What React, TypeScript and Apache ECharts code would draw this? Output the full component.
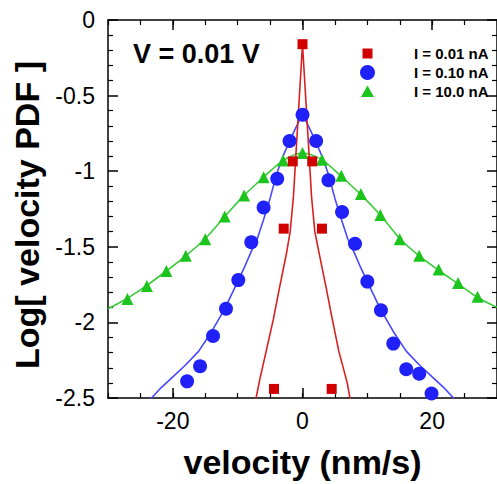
import React, { useEffect, useRef } from "react";
import * as echarts from "echarts";

// Measured markers
const redPtsV = [-4.4, -2.9, -1.5, 0, 1.5, 3.0, 4.5];
const redPtsLog = [-2.44, -1.38, -0.935, -0.16, -0.935, -1.38, -2.44];

const bluePtsV = [-17.8, -15.8, -13.8, -11.8, -9.9, -7.9, -6.0, -3.9, -2.0, 0, 2.1, 4.0, 6.1, 8.1, 10.0, 12.1, 14.0, 16.0, 18.0, 19.9];
const bluePtsLog = [-2.39, -2.29, -2.09, -1.91, -1.72, -1.47, -1.24, -1.05, -0.8, -0.627, -0.8, -1.06, -1.27, -1.48, -1.73, -1.92, -2.14, -2.31, -2.34, -2.47];

const greenPtsV = [-27, -24, -21, -18, -15, -12, -9, -6, -3, 0, 3, 6, 9, 12, 15, 18, 21, 24, 27];
const greenPtsLog = [-1.845, -1.76, -1.66, -1.56, -1.45, -1.3, -1.16, -1.04, -0.93, -0.88, -0.925, -1.03, -1.15, -1.29, -1.45, -1.56, -1.65, -1.74, -1.83];

// Fitted curves
const redFitV = [-7.3, -6.6, -5.6, -4.5, -3.5, -2.5, -1.9, -1.4, -1, -0.5, 0, 0.5, 1, 1.4, 1.9, 2.6, 3.6, 4.6, 5.6, 6.9, 7.4];
const redFitLog = [-2.53, -2.38, -2.19, -1.98, -1.76, -1.55, -1.4, -1.17, -0.88, -0.52, -0.16, -0.52, -0.88, -1.17, -1.4, -1.55, -1.76, -1.98, -2.19, -2.4, -2.52];

const blueFitV = [-23.5, -22, -20, -18, -16, -14, -12, -10, -9, -8, -7, -6, -5, -4, -3, -2, -1, 0, 1, 2, 3, 4, 5, 6, 7, 8, 9, 10, 12, 14, 16, 18, 20, 22, 23.5];
const blueFitLog = [-2.51, -2.44, -2.36, -2.28, -2.19, -2.06, -1.91, -1.73, -1.64, -1.54, -1.45, -1.32, -1.18, -1.02, -0.9, -0.8, -0.71, -0.62, -0.71, -0.8, -0.9, -1.02, -1.18, -1.32, -1.45, -1.54, -1.64, -1.73, -1.91, -2.06, -2.19, -2.28, -2.36, -2.44, -2.51];

const greenFitV = [-30, -27, -24, -21, -18, -15, -12, -9, -6, -3, 0, 3, 6, 9, 12, 15, 18, 21, 24, 27, 30];
const greenFitLog = [-1.91, -1.84, -1.755, -1.66, -1.56, -1.445, -1.3, -1.16, -1.04, -0.93, -0.88, -0.925, -1.035, -1.155, -1.29, -1.445, -1.56, -1.655, -1.745, -1.835, -1.9];

const seriesNames = ["I = 0.01 nA", "I = 0.10 nA", "I = 10.0 nA"];
const xMajor = [-20, 0, 20];
const annotation = "V = 0.01 V";

const zip = (a: number[], b: number[]) => a.map((v, i) => [v, b[i]]);

const FONT = "'Liberation Sans', Arial, Helvetica, sans-serif";
const RED = "#d00000";
const BLUE = "#2020f8";
const GREEN = "#1ec41e";

// legend icons padded inside a 15x15 box so they keep their relative sizes
const squareIcon = "path://M0,0M15,15M2.5,2.5L12.5,2.5L12.5,12.5L2.5,12.5Z";
const triangleIcon = "path://M0,0M15,15M7.5,1.5L14,13L1,13Z";

export default function App() {
  const ref = useRef<HTMLDivElement>(null);
  useEffect(() => {
    if (!ref.current) return;
    const chart = echarts.init(ref.current, undefined, { renderer: "svg" });
    const axisLine = { show: true, onZero: false, lineStyle: { color: "#000", width: 1.5 } };
    const noLine = { show: false, onZero: false };
    const baseX = { type: "value", min: -30, max: 30, interval: 5, splitLine: { show: false } };
    const baseY = { type: "value", min: -2.5, max: 0, interval: 0.5, splitLine: { show: false } };
    chart.setOption({
      animation: false,
      grid: { left: 108, top: 20, width: 391, height: 392 },
      xAxis: [
        {
          ...baseX,
          position: "bottom",
          axisLine,
          axisTick: { inside: true, length: 5, lineStyle: { color: "#000", width: 1.2 } },
          axisLabel: { customValues: xMajor, color: "#000", fontSize: 23, fontFamily: FONT, margin: 11 },
          name: "velocity (nm/s)",
          nameLocation: "middle",
          nameGap: 47,
          nameTextStyle: { color: "#000", fontSize: 34, fontWeight: "bold", fontFamily: FONT },
        },
        {
          ...baseX,
          position: "bottom",
          axisLine: noLine,
          axisTick: { inside: true, length: 10, customValues: xMajor, lineStyle: { color: "#000", width: 1.5 } },
          axisLabel: { show: false },
        },
        {
          ...baseX,
          position: "top",
          axisLine,
          axisTick: { inside: true, length: 5, lineStyle: { color: "#000", width: 1.2 } },
          axisLabel: { show: false },
        },
        {
          ...baseX,
          position: "top",
          axisLine: noLine,
          axisTick: { inside: true, length: 10, customValues: xMajor, lineStyle: { color: "#000", width: 1.5 } },
          axisLabel: { show: false },
        },
      ],
      yAxis: [
        {
          ...baseY,
          position: "left",
          axisLine,
          axisTick: { inside: true, length: 10, lineStyle: { color: "#000", width: 1.5 } },
          minorTick: { show: true, splitNumber: 5, length: 5, lineStyle: { color: "#000", width: 1.2 } },
          axisLabel: { color: "#000", fontSize: 23, fontFamily: FONT, margin: 13 },
          name: "Log[ velocity PDF ]",
          nameLocation: "middle",
          nameGap: 60,
          nameTextStyle: { color: "#000", fontSize: 34, fontWeight: "bold", fontFamily: FONT, padding: [0, 12, 0, 0] },
        },
        {
          ...baseY,
          position: "right",
          axisLine,
          axisTick: { inside: true, length: 10, lineStyle: { color: "#000", width: 1.5 } },
          minorTick: { show: true, splitNumber: 5, length: 5, lineStyle: { color: "#000", width: 1.2 } },
          axisLabel: { show: false },
        },
      ],
      legend: {
        data: [
          { name: seriesNames[0], icon: squareIcon },
          { name: seriesNames[1], icon: "circle" },
          { name: seriesNames[2], icon: triangleIcon },
        ],
        orient: "vertical",
        left: 355,
        top: 41,
        itemWidth: 15,
        itemHeight: 15,
        itemGap: 4,
        textStyle: { color: "#000", fontSize: 15, fontWeight: "bold", fontFamily: FONT, padding: [0, 0, 0, 34] },
      },
      graphic: [
        {
          type: "text",
          left: 133,
          top: 40,
          style: { text: annotation, font: `bold 27px ${FONT}`, fill: "#000" },
        },
      ],
      series: [
        {
          type: "line",
          data: zip(greenFitV, greenFitLog),
          symbol: "none",
          smooth: 0.3,
          lineStyle: { color: "#3acc3a", width: 1.6 },
          z: 2,
        },
        {
          type: "line",
          data: zip(blueFitV, blueFitLog),
          symbol: "none",
          lineStyle: { color: "#4848ff", width: 1.6 },
          z: 2,
        },
        {
          type: "line",
          data: zip(redFitV, redFitLog),
          symbol: "none",
          lineStyle: { color: "#d82020", width: 1.6 },
          z: 2,
        },
        {
          name: seriesNames[2],
          type: "scatter",
          data: zip(greenPtsV, greenPtsLog),
          symbol: "triangle",
          symbolSize: 12,
          itemStyle: { color: GREEN, opacity: 1 },
          z: 3,
        },
        {
          name: seriesNames[1],
          type: "scatter",
          data: zip(bluePtsV, bluePtsLog),
          symbol: "circle",
          symbolSize: 14,
          itemStyle: { color: BLUE, opacity: 1 },
          z: 4,
        },
        {
          name: seriesNames[0],
          type: "scatter",
          data: zip(redPtsV, redPtsLog),
          symbol: "rect",
          symbolSize: 10,
          itemStyle: { color: RED, opacity: 1 },
          z: 5,
        },
      ],
    });
    return () => chart.dispose();
  }, []);
  return <div ref={ref} style={{ position: "absolute", left: 0, top: 0, width: 497, height: 484 }} />;
}
